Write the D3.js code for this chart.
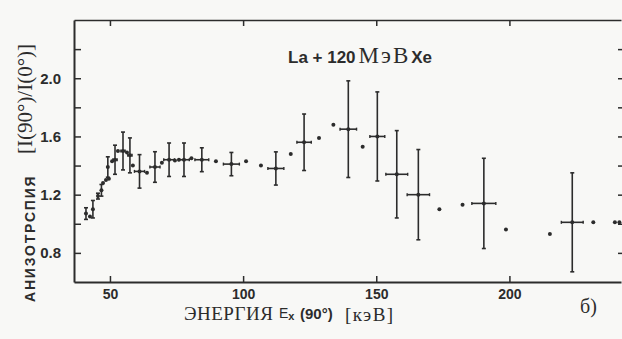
<!DOCTYPE html>
<html>
<head>
<meta charset="utf-8">
<script src="https://cdn.jsdelivr.net/npm/d3@7"></script>
<style>
  html, body { margin: 0; padding: 0; background: #f8f8f6; }
  svg { display: block; }
</style>
</head>
<body>
<svg id="chart" width="622" height="339"></svg>
<script>
// Excitation energy E_x (90°), keV
const energy = [41.0, 42.5, 43.6, 45.5, 46.8, 47.4, 48.5, 49.6, 49.2, 50.8,
                51.9, 53.0, 54.9, 56.4, 57.5, 58.6, 61.1, 63.9, 66.9, 69.5,
                72.2, 74.4, 75.9, 77.8, 80.6, 84.5, 89.8, 95.6, 101.1, 106.7,
                112.3, 117.9, 122.9, 128.5, 133.9, 139.5, 144.9, 150.4, 157.7, 165.8,
                173.7, 182.4, 190.4, 198.7, 215.2, 223.6, 231.5, 239.6, 241.3];
// Anisotropy I(90°)/I(0°)
const anisotropy = [1.07, 1.05, 1.10, 1.19, 1.23, 1.28, 1.30, 1.31, 1.39, 1.43,
                    1.44, 1.50, 1.50, 1.49, 1.47, 1.40, 1.36, 1.35, 1.39, 1.42,
                    1.44, 1.435, 1.44, 1.44, 1.45, 1.44, 1.43, 1.41, 1.43, 1.40,
                    1.38, 1.48, 1.56, 1.59, 1.68, 1.65, 1.53, 1.60, 1.34, 1.20,
                    1.10, 1.13, 1.14, 0.96, 0.93, 1.01, 1.01, 1.01, 1.01];
// Uncertainty of the anisotropy (0 = no bar drawn)
const errAniso = [0.04, 0, 0.06, 0.02, 0.04, 0, 0, 0, 0.07, 0,
                  0.10, 0, 0.13, 0, 0.12, 0, 0.115, 0, 0.105, 0,
                  0.115, 0, 0, 0.115, 0, 0.082, 0, 0.08, 0, 0,
                  0.114, 0, 0.194, 0, 0, 0.332, 0, 0.306, 0.30, 0.31,
                  0, 0, 0.31, 0, 0, 0.34, 0, 0, 0];
// Energy bin half-width, keV (0 = no bar drawn)
const errEnergy = [0, 0, 0, 0, 0, 0, 0, 0, 0, 0,
                   0.8, 0, 0.8, 0, 0.8, 0, 1.9, 0, 1.9, 0,
                   2.0, 0, 0, 2.0, 0, 2.6, 0, 3.0, 0, 0,
                   3.0, 0, 2.7, 0, 0, 3.1, 0, 2.8, 4.1, 4.2,
                   0, 0, 4.5, 0, 0, 4.1, 0, 0, 0];

const xTickValues = [50, 100, 150, 200];
const yTickValues = [0.8, 1.0, 1.2, 1.4, 1.6, 1.8, 2.0, 2.2];
const yLabelled = [0.8, 1.2, 1.6, 2.0];

const points = energy.map((e, i) => ({
  e, v: anisotropy[i], dv: errAniso[i], de: errEnergy[i]
}));

const ink = "#2c2c2c";
const sans = "'Liberation Sans', Arial, sans-serif";
const serif = "'Liberation Serif', 'Times New Roman', serif";
const svg = d3.select("#chart");

const x = d3.scaleLinear().domain([36.5, 241.9]).range([74, 621]);
const y = d3.scaleLinear().domain([0.6, 2.4]).range([282, 20]);

function styleAxis(g, width) {
  g.select(".domain").attr("stroke", ink).attr("stroke-width", width);
  g.selectAll(".tick line").attr("stroke", ink).attr("stroke-width", 1.5);
  g.selectAll(".tick text").attr("fill", ink);
}

// bottom axis
svg.append("g")
  .attr("transform", `translate(0,${y(0.6)})`)
  .call(d3.axisBottom(x).tickValues(xTickValues).tickSizeInner(-6).tickSizeOuter(0)
        .tickPadding(7).tickFormat(d3.format("d")))
  .call(g => styleAxis(g, 2))
  .call(g => g.selectAll(".tick text")
        .attr("font-family", sans).attr("font-weight", "bold").attr("font-size", 14));

// top axis
svg.append("g")
  .attr("transform", `translate(0,${y(2.4)})`)
  .call(d3.axisTop(x).tickValues(xTickValues).tickSizeInner(-6).tickSizeOuter(0)
        .tickFormat(""))
  .call(g => styleAxis(g, 1.6));

// left axis
svg.append("g")
  .attr("transform", `translate(${x(36.5)},0)`)
  .call(d3.axisLeft(y).tickValues(yTickValues).tickSizeInner(-7).tickSizeOuter(0)
        .tickPadding(13)
        .tickFormat(d => yLabelled.some(v => Math.abs(v - d) < 1e-6) ? d3.format(".1f")(d) : ""))
  .call(g => styleAxis(g, 2))
  .call(g => g.selectAll(".tick text")
        .attr("font-family", sans).attr("font-weight", "bold").attr("font-size", 15));

// right axis (frame edge)
svg.append("g")
  .attr("transform", `translate(623,0)`)
  .call(d3.axisRight(y).tickValues(yTickValues).tickSizeInner(-5).tickSizeOuter(0)
        .tickFormat(""))
  .call(g => styleAxis(g, 1.6));

// error bars
const marks = svg.append("g").attr("stroke", ink).attr("fill", ink);

const withV = points.filter(p => p.dv > 0);
marks.selectAll("line.vbar").data(withV).join("line")
  .attr("class", "vbar")
  .attr("x1", p => x(p.e)).attr("x2", p => x(p.e))
  .attr("y1", p => y(p.v + p.dv)).attr("y2", p => y(p.v - p.dv))
  .attr("stroke-width", 1.6);
marks.selectAll("line.vcapTop").data(withV).join("line")
  .attr("class", "vcapTop")
  .attr("x1", p => x(p.e) - 2).attr("x2", p => x(p.e) + 2)
  .attr("y1", p => y(p.v + p.dv)).attr("y2", p => y(p.v + p.dv))
  .attr("stroke-width", 1.6);
marks.selectAll("line.vcapBot").data(withV).join("line")
  .attr("class", "vcapBot")
  .attr("x1", p => x(p.e) - 2).attr("x2", p => x(p.e) + 2)
  .attr("y1", p => y(p.v - p.dv)).attr("y2", p => y(p.v - p.dv))
  .attr("stroke-width", 1.6);

const withE = points.filter(p => p.de > 0);
marks.selectAll("line.hbar").data(withE).join("line")
  .attr("class", "hbar")
  .attr("x1", p => x(p.e - p.de)).attr("x2", p => x(p.e + p.de))
  .attr("y1", p => y(p.v)).attr("y2", p => y(p.v))
  .attr("stroke-width", 1.6);
marks.selectAll("line.hcapL").data(withE).join("line")
  .attr("class", "hcapL")
  .attr("x1", p => x(p.e - p.de)).attr("x2", p => x(p.e - p.de))
  .attr("y1", p => y(p.v) - 1.5).attr("y2", p => y(p.v) + 1.5)
  .attr("stroke-width", 1.4);
marks.selectAll("line.hcapR").data(withE).join("line")
  .attr("class", "hcapR")
  .attr("x1", p => x(p.e + p.de)).attr("x2", p => x(p.e + p.de))
  .attr("y1", p => y(p.v) - 1.5).attr("y2", p => y(p.v) + 1.5)
  .attr("stroke-width", 1.4);

// data points
marks.selectAll("circle").data(points).join("circle")
  .attr("cx", p => x(p.e)).attr("cy", p => y(p.v))
  .attr("r", 2).attr("stroke", "none");

// reaction label
const ann = svg.append("text").attr("x", 288).attr("y", 63).attr("fill", ink);
ann.append("tspan").attr("font-family", sans)
  .attr("font-weight", "bold").attr("font-size", 17).text("La + 120");
ann.append("tspan").attr("font-family", serif).attr("dx", 3)
  .attr("font-size", 23).attr("letter-spacing", 2).text("МэВ");
ann.append("tspan").attr("font-family", sans).attr("dx", 1)
  .attr("font-weight", "bold").attr("font-size", 17).text("Xe");

// y-axis title
svg.append("text")
  .attr("transform", "translate(35,302) rotate(-90)")
  .attr("font-family", sans).attr("font-weight", "bold")
  .attr("font-size", 14).attr("letter-spacing", 1.8).attr("fill", ink)
  .text("АНИЗОТРСПИЯ");
svg.append("text")
  .attr("transform", "translate(32,154) rotate(-90)")
  .attr("font-family", serif)
  .attr("font-size", 21).attr("fill", ink)
  .text("[I(90°)/I(0°)]");

// x-axis title
svg.append("text").attr("x", 184).attr("y", 320)
  .attr("font-family", serif).attr("font-size", 19)
  .attr("letter-spacing", 0.5).attr("fill", ink).text("ЭНЕРГИЯ");
const ex = svg.append("text").attr("x", 279).attr("y", 318)
  .attr("font-family", sans).attr("fill", ink);
ex.append("tspan").attr("font-size", 14).text("E");
ex.append("tspan").attr("font-size", 11).attr("font-weight", "bold").attr("dy", 2).text("x");
svg.append("text").attr("x", 300).attr("y", 319)
  .attr("font-family", sans).attr("font-size", 15)
  .attr("font-weight", "bold").attr("fill", ink).text("(90°)");
svg.append("text").attr("x", 345).attr("y", 321)
  .attr("font-family", serif).attr("font-size", 19).attr("letter-spacing", 1.4)
  .attr("fill", ink).text("[кэВ]");

// panel tag
svg.append("text").attr("x", 580).attr("y", 313)
  .attr("font-family", serif).attr("font-size", 20)
  .attr("fill", ink).text("б)");
</script>
</body>
</html>
